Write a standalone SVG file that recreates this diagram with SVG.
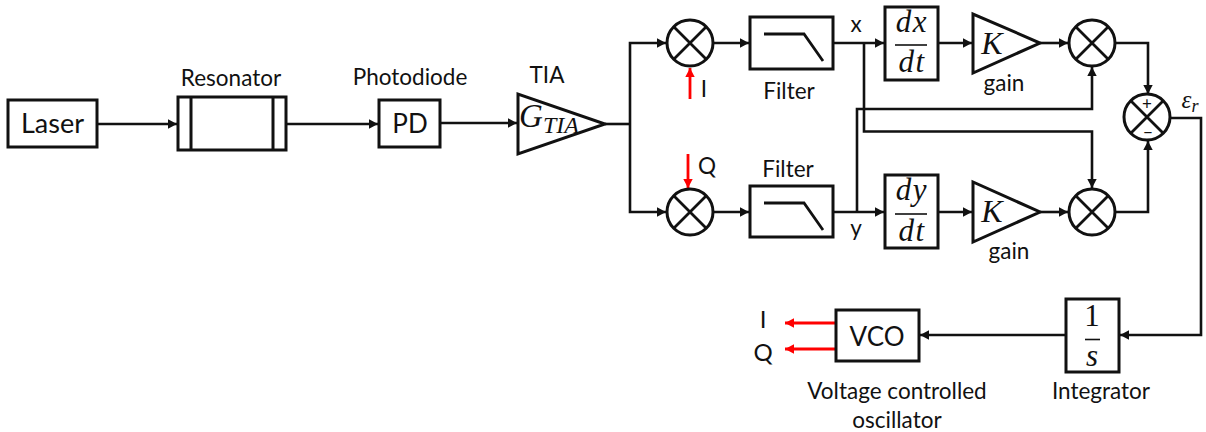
<svg xmlns="http://www.w3.org/2000/svg" width="1206" height="432" viewBox="0 0 1206 432">
<style>
text{font-family:"Lato","Carlito","Open Sans",sans-serif;fill:#111}
.lb{font-size:22.500px;text-anchor:middle}
.big{font-size:26px;text-anchor:middle}
.m{font-family:"Liberation Serif","DejaVu Serif",serif;font-style:italic;font-size:31px;text-anchor:middle}
.f{letter-spacing:1.500px}
.b{fill:#fff;stroke:#111;stroke-width:3}
.w{fill:none;stroke:#111;stroke-width:2.600;stroke-linejoin:miter}
.r{fill:none;stroke:#f00;stroke-width:2.800}
.t{stroke:#111;stroke-width:1.600}
</style>
<defs>
<marker id="a" markerUnits="userSpaceOnUse" markerWidth="12" markerHeight="12" refX="9" refY="5" orient="auto"><path d="M0 0.300L9 5L0 9.700Z" fill="#111"/></marker>
<marker id="ar" markerUnits="userSpaceOnUse" markerWidth="12" markerHeight="12" refX="9" refY="5" orient="auto"><path d="M0 0.300L9 5L0 9.700Z" fill="#f00"/></marker>
<g id="mix"><circle r="23" fill="#fff" stroke="#111" stroke-width="3"/><path d="M-16-16L16 16M-16 16L16-16" stroke="#111" stroke-width="2.800"/></g>
<path id="lp" d="M0 0H40L59 27" fill="none" stroke="#111" stroke-width="2.800"/>
</defs>
<g id="connectors">
<path class="w" marker-end="url(#a)" d="M98 124H177"/>
<path class="w" marker-end="url(#a)" d="M287 124H378"/>
<path class="w" marker-end="url(#a)" d="M441 123H517"/>
<path class="w" d="M605 124H630"/>
<path class="w" marker-end="url(#a)" d="M630 124V43H666"/>
<path class="w" marker-end="url(#a)" d="M630 124V212H666"/>
<path class="w" marker-end="url(#a)" d="M713 43H749"/>
<path class="w" marker-end="url(#a)" d="M713 212H749"/>
<path class="w" marker-end="url(#a)" d="M833 43H884"/>
<path class="w" marker-end="url(#a)" d="M833 212H884"/>
<path class="w" marker-end="url(#a)" d="M864 43V131.500H1092V188"/>
<path class="w" marker-end="url(#a)" d="M857 212V109H1092V67"/>
<path class="w" marker-end="url(#a)" d="M938 43H972"/>
<path class="w" marker-end="url(#a)" d="M938 212H972"/>
<path class="w" marker-end="url(#a)" d="M1040 43H1068"/>
<path class="w" marker-end="url(#a)" d="M1040 212H1068"/>
<path class="w" marker-end="url(#a)" d="M1115 43H1148V94"/>
<path class="w" marker-end="url(#a)" d="M1115 212H1148V141"/>
<path class="w" marker-end="url(#a)" d="M1171 118H1201V335H1120"/>
<path class="w" marker-end="url(#a)" d="M1066 335H920"/>
<path class="r" marker-end="url(#ar)" d="M690 99V68"/>
<path class="r" marker-end="url(#ar)" d="M688 154V188"/>
<path class="r" marker-end="url(#ar)" d="M836 323H785"/>
<path class="r" marker-end="url(#ar)" d="M836 349H785"/>
</g>
<g id="laser"><rect class="b" x="8" y="100" width="89" height="47"/><text class="big" x="52.500" y="133" style="font-size:27px">Laser</text></g>
<g id="resonator"><rect class="b" x="178" y="97" width="108" height="53"/><path d="M191 97V150M273 97V150" stroke="#111" stroke-width="3"/><text class="lb" x="231" y="86">Resonator</text></g>
<g id="pd"><rect class="b" x="379" y="100" width="61" height="47"/><text class="big" x="410" y="133">PD</text><text class="lb" x="410" y="85">Photodiode</text></g>
<g id="tia"><path class="b" d="M518 94V154L605 124Z"/><text class="m" x="549" y="127" style="font-size:33px">G<tspan font-size="24" dy="6">TIA</tspan></text><text class="lb" x="547" y="83">TIA</text></g>
<g id="mixer-i"><use href="#mix" x="690" y="43"/></g>
<g id="mixer-q"><use href="#mix" x="690" y="212"/></g>
<g id="filter-i"><rect class="b" x="750" y="17" width="83" height="52"/><use href="#lp" x="764" y="34"/><text class="lb" x="789" y="99">Filter</text></g>
<g id="filter-q"><rect class="b" x="750" y="186" width="83" height="51"/><use href="#lp" x="764" y="203"/><text class="lb" x="788" y="177">Filter</text></g>
<g id="ddx"><rect class="b" x="885" y="7" width="53" height="73"/><text class="m f" x="912" y="32">dx</text><path d="M895 45H927" class="t"/><text class="m f" x="912" y="72">dt</text></g>
<g id="ddy"><rect class="b" x="885" y="175" width="53" height="73"/><text class="m f" x="912" y="200">dy</text><path d="M895 214H927" class="t"/><text class="m f" x="912" y="241">dt</text></g>
<g id="gain-x"><path class="b" d="M973 14V73L1040 43Z"/><text class="m" x="992" y="54" style="font-size:32px">K</text><text class="lb" x="1004" y="91">gain</text></g>
<g id="gain-y"><path class="b" d="M973 182V242L1040 212Z"/><text class="m" x="992" y="222" style="font-size:32px">K</text><text class="lb" x="1009" y="259">gain</text></g>
<g id="mixer-x"><use href="#mix" x="1092" y="43"/></g>
<g id="mixer-y"><use href="#mix" x="1092" y="212"/></g>
<g id="sum"><use href="#mix" x="1147" y="117"/><text x="1147" y="110" style="font-size:17px;text-anchor:middle">+</text><text x="1148" y="138" style="font-size:17px;text-anchor:middle">−</text></g>
<g id="integrator"><rect class="b" x="1066" y="299" width="53" height="73"/><text class="m" x="1092" y="326" style="font-style:normal">1</text><path d="M1085 339.500H1100" class="t"/><text class="m" x="1092" y="366">s</text><text class="lb" x="1101" y="399">Integrator</text></g>
<g id="vco"><rect class="b" x="836" y="310" width="83" height="51"/><text class="big" x="877" y="346">VCO</text><text class="lb" x="897" y="399">Voltage controlled</text><text class="lb" x="897" y="428">oscillator</text></g>
<g id="labels">
<text class="lb" x="856" y="32">x</text>
<text class="lb" x="856" y="236">y</text>
<text class="lb" x="704" y="97">I</text>
<text class="lb" x="707" y="174">Q</text>
<text class="lb" x="763" y="328" style="font-size:24px">I</text>
<text class="lb" x="763" y="361" style="font-size:24px">Q</text>
<text class="m" x="1190" y="108" style="font-size:25px">ε<tspan font-size="18" dy="4">r</tspan></text>
</g>
</svg>
